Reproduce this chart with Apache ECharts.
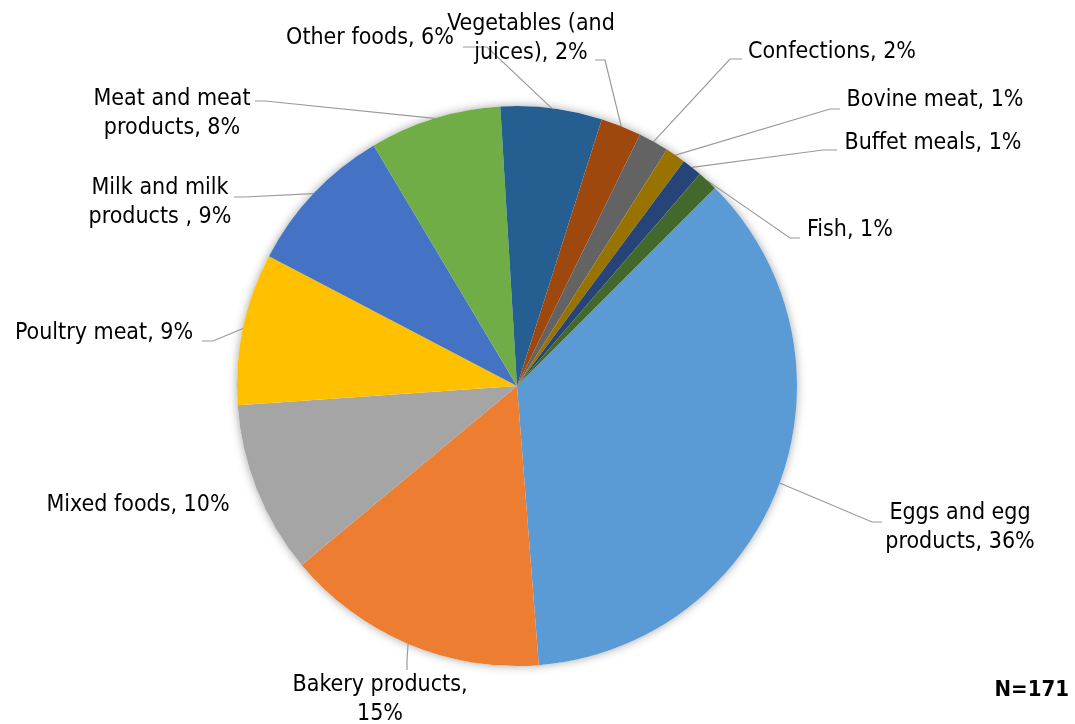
<!DOCTYPE html>
<html><head><meta charset="utf-8">
<script src="https://cdn.jsdelivr.net/npm/echarts@6/dist/echarts.min.js"></script>
<style>html,body{margin:0;padding:0;background:#fff}#c{width:1075px;height:724px}</style>
</head><body><div id="c"></div>
<script>
// ---- data ----
const categories = ['Eggs and egg products','Bakery products','Mixed foods','Poultry meat','Milk and milk products','Meat and meat products','Other foods','Vegetables (and juices)','Confections','Bovine meat','Buffet meals','Fish'];
const counts = [62, 26, 17, 15, 15, 13, 10, 4, 3, 2, 2, 2]; // N=171
const labelTemplates = ['Eggs and egg\nproducts, {d}%','Bakery products,\n{d}%','Mixed foods, {d}%','Poultry meat, {d}%','Milk and milk\nproducts , {d}%','Meat and meat\nproducts, {d}%','Other foods, {d}%','Vegetables (and\njuices), {d}%','Confections, {d}%','Bovine meat, {d}%','Buffet meals, {d}%','Fish, {d}%'];
const colors = ['#5B9BD5','#ED7D31','#A5A5A5','#FFC000','#4472C4','#70AD47','#255E91','#9E480E','#636363','#997300','#264478','#43682B'];
const noteText = 'N=171';

// ---- label placement (layout, not data) ----
// [labelCenterX, labelCenterY, elbowX, elbowY, endX, endY] ; null elbow => no leader line
const labelPlace = [
  [960, 528, 872, 522, 882, 522],
  [380, 700, 407, 660, 407, 670],
  [138, 505, null],
  [104, 333, 213, 341, 202, 341],
  [160, 203, 244, 197, 234, 197],
  [172, 114, 265, 101, 255, 101],
  [370, 38, 487, 47, 463, 47],
  [531, 39, 605, 60, 595, 60],
  [832, 52, 730, 59, 742, 59],
  [935, 100, 830, 109, 840, 109],
  [933, 143, 823, 150, 837, 150],
  [850, 230, 790, 238, 800, 238]
];

const FONT = '"DejaVu Sans Condensed", "DejaVu Sans", sans-serif';
const chart = echarts.init(document.getElementById('c'), null, {renderer: 'canvas'});
const pieData = categories.map((name, i) => {
  const item = { name, value: counts[i], itemStyle: { color: colors[i] } };
  if (labelPlace[i][2] === null) item.labelLine = { show: false };
  return item;
});

chart.setOption({
  animation: false,
  backgroundColor: '#ffffff',
  title: {
    text: noteText, right: 1, top: 674,
    textStyle: { fontFamily: FONT, fontSize: 22, fontWeight: 'bold', color: '#000' }
  },
  series: [
    {
      type: 'pie', silent: true, z: 1,
      center: [517, 386], radius: 280,
      label: { show: false }, labelLine: { show: false },
      itemStyle: { color: '#ffffff', shadowBlur: 10, shadowColor: 'rgba(0,0,0,0.35)' },
      data: [{ value: 1, name: 'bg' }]
    },
    {
      type: 'pie', z: 2,
      center: [517, 386], radius: 280,
      startAngle: 45, clockwise: true,
      avoidLabelOverlap: false,
      percentPrecision: 0,
      itemStyle: { borderWidth: 0 },
      label: {
        show: true, position: 'outside', color: '#000',
        fontFamily: FONT, fontSize: 23, lineHeight: 29,
        formatter: p => labelTemplates[p.dataIndex].replace('{d}', p.percent)
      },
      labelLine: { show: true, length: 10, length2: 10, smooth: false, lineStyle: { color: '#9A9A9A', width: 1.2 } },
      labelLayout: function (params) {
        const pl = labelPlace[params.dataIndex];
        const res = { x: pl[0], y: pl[1], align: 'center', verticalAlign: 'middle' };
        if (pl[2] !== null && params.labelLinePoints) {
          const start = params.labelLinePoints[0];
          res.labelLinePoints = [start, [pl[2], pl[3]], [pl[4], pl[5]]];
        }
        return res;
      },
      data: pieData
    }
  ]
});
</script></body></html>
